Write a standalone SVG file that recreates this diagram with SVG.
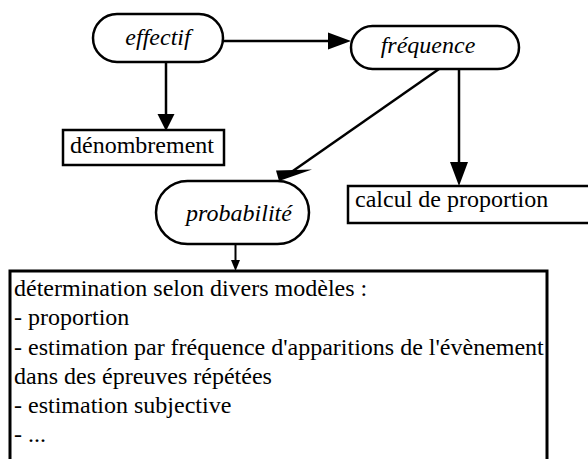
<svg xmlns="http://www.w3.org/2000/svg" width="588" height="459" viewBox="0 0 588 459">
<style>
.shape{fill:#fff;stroke:#000;stroke-width:2.5}
text{font-family:'Liberation Serif','Times New Roman',Tinos,serif;font-size:24px;fill:#000}
.i{font-style:italic}
.ln{stroke:#000;stroke-width:2.5;fill:none}
.hd{fill:#000;stroke:none}
</style>
<rect width="588" height="459" fill="#fff"/>
<g id="connectors">
<line class="ln" x1="223" y1="41" x2="330" y2="41"/>
<polygon class="hd" points="328,32.5 351,41 328,49.5"/>
<line class="ln" x1="166" y1="62" x2="166" y2="116"/>
<polygon class="hd" points="157.5,114 174.5,114 166,131"/>
<line class="ln" x1="439" y1="69" x2="290" y2="173"/>
<polygon class="hd" points="276,170.5 312,169.5 279,181"/>
<line class="ln" x1="459" y1="67" x2="459" y2="164"/>
<polygon class="hd" points="450,162 468,162 459,186"/>
<line class="ln" x1="235.5" y1="242" x2="235.5" y2="262" style="stroke-width:2"/>
<polygon class="hd" points="231,260 240,260 235.5,271"/>
</g>
<g id="effectif">
<rect class="shape" x="93" y="14" width="130" height="48" rx="24"/>
<text class="i" x="158" y="45" text-anchor="middle">effectif</text>
</g>
<g id="frequence">
<rect class="shape" x="351" y="26" width="168" height="43" rx="21.5"/>
<text class="i" x="428" y="53" text-anchor="middle">fréquence</text>
</g>
<g id="denombrement">
<rect class="shape" x="63" y="130" width="161" height="35"/>
<text x="70" y="153">dénombrement</text>
</g>
<g id="probabilite">
<rect class="shape" x="156" y="181" width="153" height="63" rx="31.5"/>
<text class="i" x="239" y="221" text-anchor="middle">probabilité</text>
</g>
<g id="calcul">
<rect class="shape" x="348" y="186" width="260" height="37"/>
<text x="355" y="207">calcul de proportion</text>
</g>
<g id="determination">
<rect class="shape" x="10" y="271" width="537" height="210" style="stroke-width:3"/>
<text x="14" y="296">détermination selon divers modèles :</text>
<text x="14" y="325">- proportion</text>
<text x="14" y="355">- estimation par fréquence d'apparitions de l'évènement</text>
<text x="14" y="384">dans des épreuves répétées</text>
<text x="14" y="413">- estimation subjective</text>
<text x="14" y="442">- ...</text>
</g>
</svg>
